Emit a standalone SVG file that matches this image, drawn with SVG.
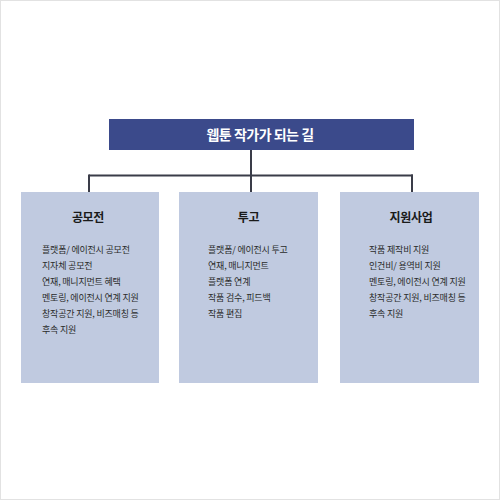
<svg xmlns="http://www.w3.org/2000/svg" width="500" height="500" viewBox="0 0 500 500">
<style>
.title{fill:#3b4a8b;}
.box{fill:#c0cae0;}
.conn{stroke:#3a3c48;stroke-width:2;fill:none;}
.tt{font-family:"Noto Sans CJK KR","Noto Sans",sans-serif;font-weight:bold;font-size:14px;fill:#ffffff;text-anchor:middle;letter-spacing:-0.5px;}
.hd{font-family:"Noto Sans CJK KR","Noto Sans",sans-serif;font-weight:bold;font-size:12px;fill:#1a1a1a;text-anchor:middle;letter-spacing:-0.3px;}
.it{font-family:"Noto Sans CJK KR","Noto Sans",sans-serif;font-size:9px;fill:#2a2a2a;letter-spacing:-0.2px;}
</style>
<rect x="0.5" y="0.5" width="499" height="499" fill="#ffffff" stroke="#e2e2e2" stroke-width="1"/>
<g id="connectors">
<line class="conn" x1="251" y1="150" x2="251" y2="192"/>
<line class="conn" x1="89" y1="175.5" x2="413" y2="175.5"/>
<line class="conn" x1="89" y1="174.5" x2="89" y2="192"/>
<line class="conn" x1="412" y1="174.5" x2="412" y2="192"/>
</g>
<g id="root">
<rect class="title" x="109" y="119" width="305" height="31"/>
<text class="tt" x="260" y="140">웹툰 작가가 되는 길</text>
</g>
<g id="contest">
<rect class="box" x="21" y="192" width="138" height="191"/>
<text class="hd" x="88" y="222">공모전</text>
<text class="it" x="42" y="253">플랫폼/ 에이전시 공모전</text>
<text class="it" x="42" y="269">지자체 공모전</text>
<text class="it" x="42" y="285">연재, 매니지먼트 혜택</text>
<text class="it" x="42" y="301">멘토링, 에이전시 연계 지원</text>
<text class="it" x="42" y="317">창작공간 지원, 비즈매칭 등</text>
<text class="it" x="42" y="333">후속 지원</text>
</g>
<g id="submission">
<rect class="box" x="179" y="192" width="139" height="191"/>
<text class="hd" x="248.5" y="222">투고</text>
<text class="it" x="208" y="253">플랫폼/ 에이전시 투고</text>
<text class="it" x="208" y="269">연재, 매니지먼트</text>
<text class="it" x="208" y="285">플랫폼 연계</text>
<text class="it" x="208" y="301">작품 검수, 피드백</text>
<text class="it" x="208" y="317">작품 편집</text>
</g>
<g id="support">
<rect class="box" x="340" y="192" width="139" height="191"/>
<text class="hd" x="411" y="222">지원사업</text>
<text class="it" x="369" y="253">작품 제작비 지원</text>
<text class="it" x="369" y="269">인건비/ 용역비 지원</text>
<text class="it" x="369" y="285">멘토링, 에이전시 연계 지원</text>
<text class="it" x="369" y="301">창작공간 지원, 비즈매칭 등</text>
<text class="it" x="369" y="317">후속 지원</text>
</g>
</svg>
